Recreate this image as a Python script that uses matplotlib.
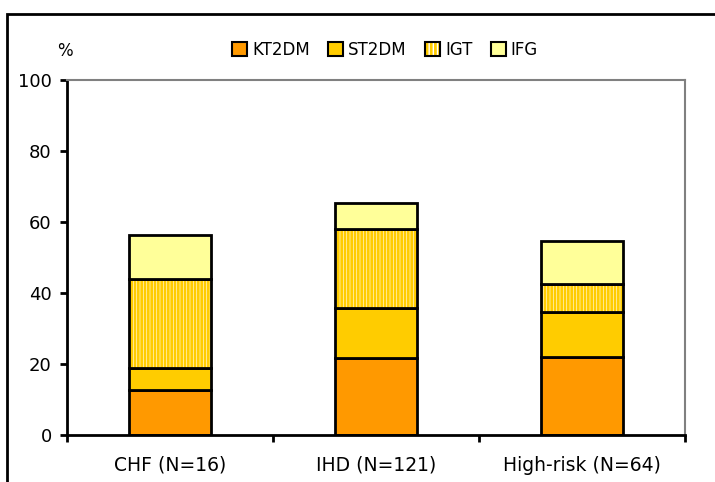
import matplotlib.pyplot as plt
import numpy as np
from matplotlib.patches import Patch, Rectangle
from matplotlib.legend_handler import HandlerTuple

categories = ['CHF (N=16)', 'IHD (N=121)', 'High-risk (N=64)']
kt2dm = [12.7, 21.6, 21.9]
st2dm = [6.3, 14.1, 12.7]
igt = [24.9, 22.2, 7.9]
ifg = [12.4, 7.4, 12.2]
series_names = ['KT2DM', 'ST2DM', 'IGT', 'IFG']
yticks = [0, 20, 40, 60, 80, 100]

plt.rcParams['font.family'] = ['DejaVu Sans']
plt.rcParams['hatch.linewidth'] = 2.0

fig = plt.figure(figsize=(7.15, 4.82), dpi=100)
ax = fig.add_axes([67 / 715, 1 - 435 / 482, 618 / 715, 355 / 482])

x = np.arange(len(categories)) + 0.5
w = 0.4
c_kt, c_st, c_igt, c_ifg = '#FF9900', '#FFCC00', '#FFCC00', '#FFFF99'

b0 = np.zeros(len(categories))
ax.bar(x, kt2dm, w, bottom=b0, color=c_kt, edgecolor='black', linewidth=2)
b1 = b0 + np.array(kt2dm)
ax.bar(x, st2dm, w, bottom=b1, color=c_st, edgecolor='black', linewidth=2)
b2 = b1 + np.array(st2dm)
# IGT: hatched stripes, then a black outline on top
ax.bar(x, igt, w, bottom=b2, color='white', edgecolor=c_igt, hatch='|||||', linewidth=0)
ax.bar(x, igt, w, bottom=b2, color='none', edgecolor='black', linewidth=2)
b3 = b2 + np.array(igt)
ax.bar(x, ifg, w, bottom=b3, color=c_ifg, edgecolor='black', linewidth=2)

ax.set_xlim(0, 3)
ax.set_ylim(0, 100)
ax.set_yticks(yticks)
ax.set_yticklabels([str(t) for t in yticks], fontsize=13)
ax.set_xticks(x)
ax.set_xticklabels(categories, fontsize=13.5)
ax.tick_params(axis='x', which='major', length=0, pad=15)
ax.set_xticks([0, 1, 2, 3], minor=True)
ax.tick_params(axis='x', which='minor', length=5, width=2, direction='out')
ax.tick_params(axis='y', length=5, width=2, direction='out', pad=6)

for s in ['left', 'bottom']:
    ax.spines[s].set_color('black')
    ax.spines[s].set_linewidth(2)
for s in ['top', 'right']:
    ax.spines[s].set_color('#808080')
    ax.spines[s].set_linewidth(1.5)

fig.text(65 / 715, 1 - 51 / 482, '%', fontsize=12, ha='center', va='center')

handles = [
    Patch(facecolor=c_kt, edgecolor='black', linewidth=1.5),
    Patch(facecolor=c_st, edgecolor='black', linewidth=1.5),
    (Patch(facecolor='white', edgecolor=c_igt, hatch='||||', linewidth=0),
     Patch(facecolor='none', edgecolor='black', linewidth=1.5)),
    Patch(facecolor=c_ifg, edgecolor='black', linewidth=1.5),
]
fig.legend(handles, series_names, loc='center', bbox_to_anchor=(385 / 715, 1 - 50 / 482),
           ncol=4, frameon=False, fontsize=12, handlelength=0.9, handleheight=0.9,
           handletextpad=0.3, columnspacing=1.1, borderpad=0,
           handler_map={tuple: HandlerTuple(ndivide=1)})

# outer chart frame
fig.patches.append(Rectangle((7 / 715, -0.1), 1.2, 1 - 14 / 482 + 0.1,
                             transform=fig.transFigure, fill=False,
                             edgecolor='black', linewidth=2))

fig.savefig('out.png', dpi=100)
